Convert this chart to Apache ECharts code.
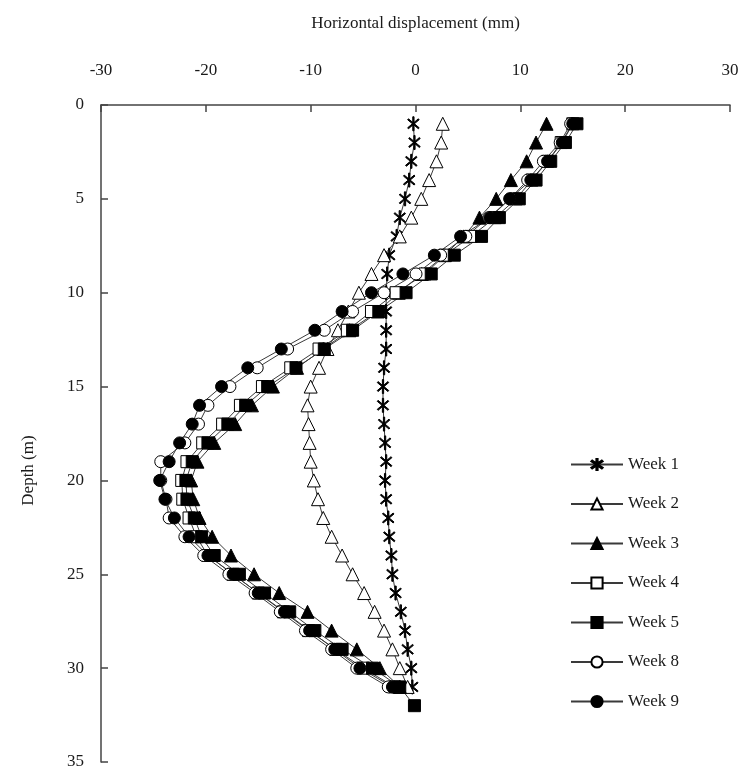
<!DOCTYPE html>
<html>
<head>
<meta charset="utf-8">
<title>Horizontal displacement vs depth</title>
<script src="https://cdn.jsdelivr.net/npm/echarts@6/dist/echarts.min.js"></script>
<style>
  html, body { margin: 0; padding: 0; background: #fff; }
  #chart { width: 747px; height: 774px; }
</style>
</head>
<body>
<div id="chart"></div>
<script>
// Depth of each inclinometer reading (m)
const depths = [1, 2, 3, 4, 5, 6, 7, 8, 9, 10, 11, 12, 13, 14, 15, 16, 17, 18, 19, 20,
                21, 22, 23, 24, 25, 26, 27, 28, 29, 30, 31];
const depthsWeek5 = depths.concat([32]);

// Horizontal displacement (mm) per reading
const week1 = [-0.2, -0.1, -0.4, -0.6, -1.0, -1.5, -1.8, -2.5, -2.7, -2.8, -2.8, -2.8, -2.8, -3.0, -3.1, -3.1,
               -3.0, -2.9, -2.8, -2.9, -2.8, -2.6, -2.5, -2.3, -2.2, -1.9, -1.4, -1.0, -0.75, -0.4, -0.3];
const week2 = [2.6, 2.45, 2.0, 1.3, 0.55, -0.4, -1.5, -3.0, -4.2, -5.4, -6.4, -7.4, -8.4, -9.2, -10.0, -10.3,
               -10.2, -10.1, -10.0, -9.7, -9.3, -8.8, -8.0, -7.0, -6.0, -4.9, -3.9, -3.0, -2.2, -1.5, -0.75];
const week3 = [12.5, 11.5, 10.6, 9.1, 7.7, 6.1, 4.6, 2.8, 0.6, -1.6, -3.6, -6.3, -8.8, -11.3, -13.6, -15.6,
               -17.2, -19.2, -20.8, -21.4, -21.2, -20.6, -19.4, -17.6, -15.4, -13.0, -10.3, -8.0, -5.6, -3.4, -1.5];
const week4 = [15.0, 13.9, 12.6, 11.1, 9.6, 7.6, 5.3, 2.8, 0.9, -1.85, -4.2, -6.5, -9.2, -11.9, -14.6, -16.7,
               -18.4, -20.3, -21.8, -22.3, -22.2, -21.6, -20.9, -19.8, -17.4, -15.0, -12.6, -10.2, -7.6, -5.0, -2.0];
const week5 = [15.4, 14.3, 12.9, 11.5, 9.9, 8.0, 6.3, 3.7, 1.5, -0.9, -3.5, -6.0, -8.7, -11.4, -14.1, -16.2,
               -17.9, -19.8, -21.3, -21.9, -21.8, -21.1, -20.4, -19.2, -16.8, -14.4, -12.0, -9.6, -7.0, -4.1, -1.5, -0.1];
const week8 = [14.8, 13.8, 12.2, 10.7, 9.0, 7.0, 4.8, 2.4, 0.05, -3.0, -6.0, -8.7, -12.2, -15.1, -17.7, -19.8,
               -20.7, -22.0, -24.3, -24.3, -23.8, -23.5, -22.0, -20.2, -17.8, -15.3, -12.9, -10.5, -8.0, -5.6, -2.6];
const week9 = [15.0, 14.0, 12.6, 11.0, 9.0, 7.1, 4.3, 1.8, -1.2, -4.2, -7.0, -9.6, -12.8, -16.0, -18.5, -20.6,
               -21.3, -22.5, -23.5, -24.4, -23.9, -23.0, -21.6, -19.8, -17.4, -15.0, -12.5, -10.1, -7.7, -5.3, -2.2];

// Axis ticks
const xTicks = { min: -30, max: 30, interval: 10 };
const yTicks = { min: 0, max: 35, interval: 5 };

const FONT = '"Liberation Serif", "DejaVu Serif", serif';
const INK = '#1a1a1a';
const LINE = '#3a3a3a';

// Six-armed asterisk built from three thin bars
const asterisk = 'path://' +
  'M-0.09,-1L0.09,-1L0.09,1L-0.09,1Z' +
  'M0.708,0.712L0.824,0.574L-0.708,-0.712L-0.824,-0.574Z' +
  'M-0.708,0.712L-0.824,0.574L0.708,-0.712L0.824,-0.574Z';

function makeSeries(name, values, ds, symbol, filled, size) {
  return {
    name: name,
    type: 'line',
    data: values.map((v, i) => [v, ds[i]]),
    symbol: symbol,
    symbolSize: size,
    symbolKeepAspect: true,
    showAllSymbol: true,
    lineStyle: { color: LINE, width: 1 },
    itemStyle: {
      color: filled ? '#000' : '#fff',
      borderColor: '#000',
      borderWidth: 1
    },
    emphasis: { disabled: true },
    animation: false
  };
}

const series = [
  makeSeries('Week 1', week1, depths, asterisk, true, 14),
  makeSeries('Week 2', week2, depths, 'triangle', false, 13),
  makeSeries('Week 3', week3, depths, 'triangle', true, 13),
  makeSeries('Week 4', week4, depths, 'rect', false, 12),
  makeSeries('Week 5', week5, depthsWeek5, 'rect', true, 12),
  makeSeries('Week 8', week8, depths, 'circle', false, 12),
  makeSeries('Week 9', week9, depths, 'circle', true, 12)
];

const chart = echarts.init(document.getElementById('chart'), null, { renderer: 'canvas' });
chart.setOption({
  backgroundColor: '#fff',
  animation: false,
  grid: { left: 101, right: 17, top: 105, bottom: 12, containLabel: false },
  xAxis: {
    type: 'value',
    position: 'top',
    min: xTicks.min, max: xTicks.max, interval: xTicks.interval,
    name: 'Horizontal displacement (mm)',
    nameLocation: 'middle',
    nameGap: 73,
    nameTextStyle: { fontFamily: FONT, fontSize: 17, color: INK },
    axisLine: { show: true, onZero: false, lineStyle: { color: '#444', width: 1.5 } },
    axisTick: { show: true, inside: true, length: 7, lineStyle: { color: '#444', width: 1.5 } },
    axisLabel: { fontFamily: FONT, fontSize: 17, color: INK, margin: 26 },
    splitLine: { show: false }
  },
  yAxis: {
    type: 'value',
    inverse: true,
    min: yTicks.min, max: yTicks.max, interval: yTicks.interval,
    name: 'Depth (m)',
    nameLocation: 'middle',
    nameGap: 64,
    nameRotate: 90,
    nameTextStyle: { fontFamily: FONT, fontSize: 17, color: INK, padding: [0, 74, 0, 0] },
    axisLine: { show: true, onZero: false, lineStyle: { color: '#444', width: 1.5 } },
    axisTick: { show: true, inside: true, length: 7, lineStyle: { color: '#444', width: 1.5 } },
    axisLabel: { fontFamily: FONT, fontSize: 17, color: INK, margin: 17 },
    splitLine: { show: false }
  },
  legend: {
    orient: 'vertical',
    left: 565,
    top: 451,
    itemWidth: 52,
    itemHeight: 14,
    itemGap: 22.5,
    textStyle: { fontFamily: FONT, fontSize: 17, color: INK },
    data: series.map(s => s.name)
  },
  series: series
});
</script>
</body>
</html>
